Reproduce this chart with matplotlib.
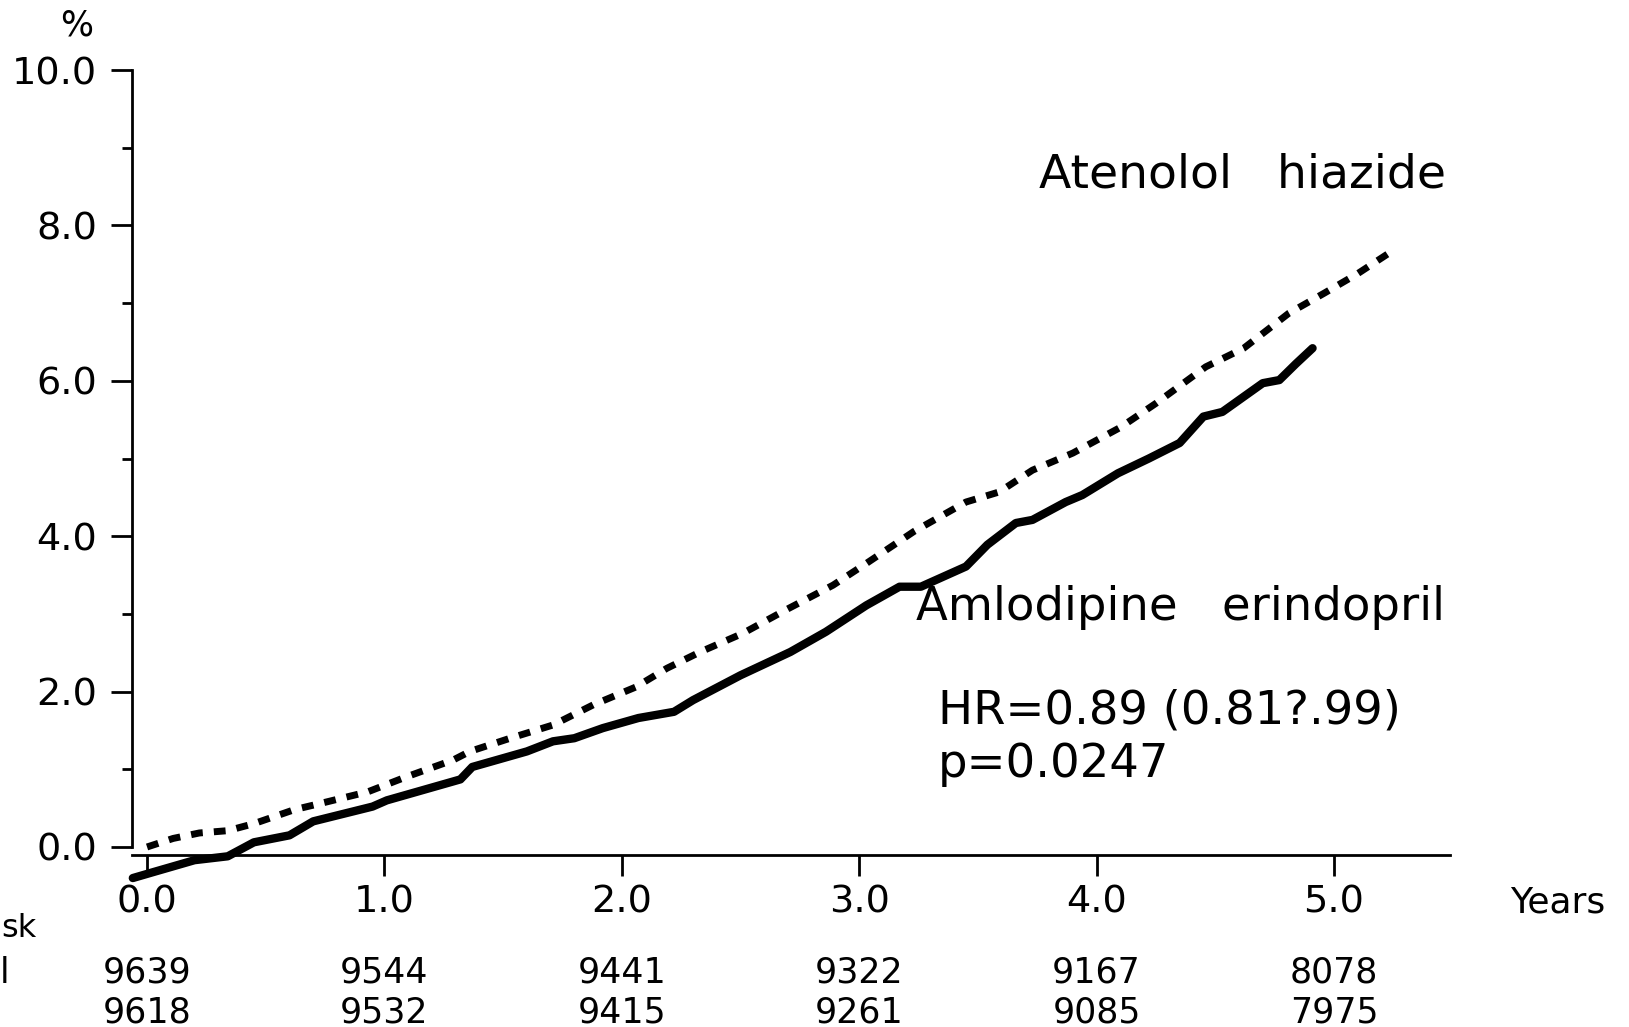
import numpy as np
import matplotlib
matplotlib.use("Agg")
import matplotlib.pyplot as plt

plt.rcParams['font.family'] = ['DejaVu Sans']

# cumulative incidence (%)
aten_years = [0.00, 0.11, 0.22, 0.34, 0.45, 0.62, 0.73, 0.93, 1.09, 1.29, 1.36, 1.53,
              1.71, 1.88, 2.06, 2.19, 2.33, 2.51, 2.69, 2.89, 3.03, 3.23, 3.45, 3.59,
              3.73, 3.90, 4.10, 4.25, 4.46, 4.62, 4.81, 4.96, 5.10, 5.26]
aten_pct = [0.00, 0.11, 0.18, 0.21, 0.30, 0.48, 0.56, 0.71, 0.90, 1.12, 1.23, 1.40,
            1.57, 1.83, 2.06, 2.30, 2.51, 2.75, 3.05, 3.37, 3.65, 4.06, 4.44, 4.57,
            4.85, 5.07, 5.40, 5.71, 6.18, 6.42, 6.87, 7.13, 7.38, 7.70]

amlo_years = [-0.06, 0.03, 0.20, 0.34, 0.45, 0.60, 0.70, 0.95, 1.01, 1.32, 1.37, 1.60,
              1.71, 1.80, 1.92, 2.07, 2.22, 2.30, 2.50, 2.71, 2.86, 3.03, 3.17, 3.26,
              3.45, 3.54, 3.66, 3.73, 3.87, 3.94, 4.09, 4.22, 4.35, 4.45, 4.53, 4.70,
              4.77, 4.84, 4.91]
amlo_pct = [-0.40, -0.32, -0.17, -0.12, 0.06, 0.15, 0.33, 0.52, 0.60, 0.87, 1.03, 1.23,
            1.36, 1.40, 1.53, 1.66, 1.74, 1.89, 2.21, 2.51, 2.77, 3.11, 3.35, 3.35,
            3.61, 3.89, 4.17, 4.21, 4.44, 4.53, 4.81, 5.00, 5.20, 5.54, 5.60, 5.97,
            6.01, 6.22, 6.42]

x_ticks = [0, 1, 2, 3, 4, 5]
x_labels = ["0.0", "1.0", "2.0", "3.0", "4.0", "5.0"]
y_ticks = [0, 2, 4, 6, 8, 10]
y_labels = ["0.0", "2.0", "4.0", "6.0", "8.0", "10.0"]
y_minor = [1, 3, 5, 7, 9]

risk_amlo = ["9639", "9544", "9441", "9322", "9167", "8078"]
risk_aten = ["9618", "9532", "9415", "9261", "9085", "7975"]

fig = plt.figure(figsize=(16.29, 10.27), dpi=100)
ax = fig.add_axes([0.0757, 0.1299, 0.8306, 0.8170])
ax.set_xlim(-0.1, 5.6)
ax.set_ylim(-0.6, 10.2)

ax.plot(amlo_years, amlo_pct, color='black', lw=6, solid_joinstyle='round',
        solid_capstyle='round')
ax.plot(aten_years, aten_pct, color='black', lw=5, dashes=(1.7, 1.6))

for s in ['top', 'right']:
    ax.spines[s].set_visible(False)
ax.spines['left'].set_position(('data', -0.063))
ax.spines['left'].set_bounds(0, 10)
ax.spines['bottom'].set_position(('data', -0.103))
ax.spines['bottom'].set_bounds(-0.063, 5.49)
ax.spines['left'].set_linewidth(2)
ax.spines['bottom'].set_linewidth(2)

ax.set_xticks(x_ticks)
ax.set_xticklabels(x_labels)
ax.set_yticks(y_ticks)
ax.set_yticklabels(y_labels)
ax.set_yticks(y_minor, minor=True)
ax.tick_params(axis='both', which='major', length=15, width=2, labelsize=27.5,
               colors='black')
ax.tick_params(axis='x', which='major', pad=6)
ax.tick_params(axis='y', which='major', pad=10)
ax.tick_params(axis='y', which='minor', length=7.5, width=2)

ax.text(-0.295, 10.45, "%", fontsize=25, ha='center', va='baseline')
ax.text(5.74, -0.849, "Years", fontsize=26, ha='left', va='baseline')

ax.text(3.757, 8.49, "Atenolol   hiazide", fontsize=34, ha='left', va='baseline')
ax.text(3.24, 2.92, "Amlodipine   erindopril", fontsize=33.5, ha='left', va='baseline')
ax.text(3.33, 1.583, "HR=0.89 (0.81?.99)", fontsize=33.5, ha='left', va='baseline')
ax.text(3.33, 0.90, "p=0.0247", fontsize=33.5, ha='left', va='baseline')

# left-hand labels of the risk table, as much as the original image shows
fig.text(1 / 1629, 1 - 937 / 1027, "sk", fontsize=23, ha='left', va='baseline')
fig.text(0.0, 1 - 983 / 1027, "l", fontsize=25, ha='left', va='baseline')
for x, a, b in zip(x_ticks, risk_amlo, risk_aten):
    ax.text(x, -1.75, a, fontsize=25, ha='center', va='baseline')
    ax.text(x, -2.265, b, fontsize=25, ha='center', va='baseline')

fig.savefig("out.png", dpi=100)
